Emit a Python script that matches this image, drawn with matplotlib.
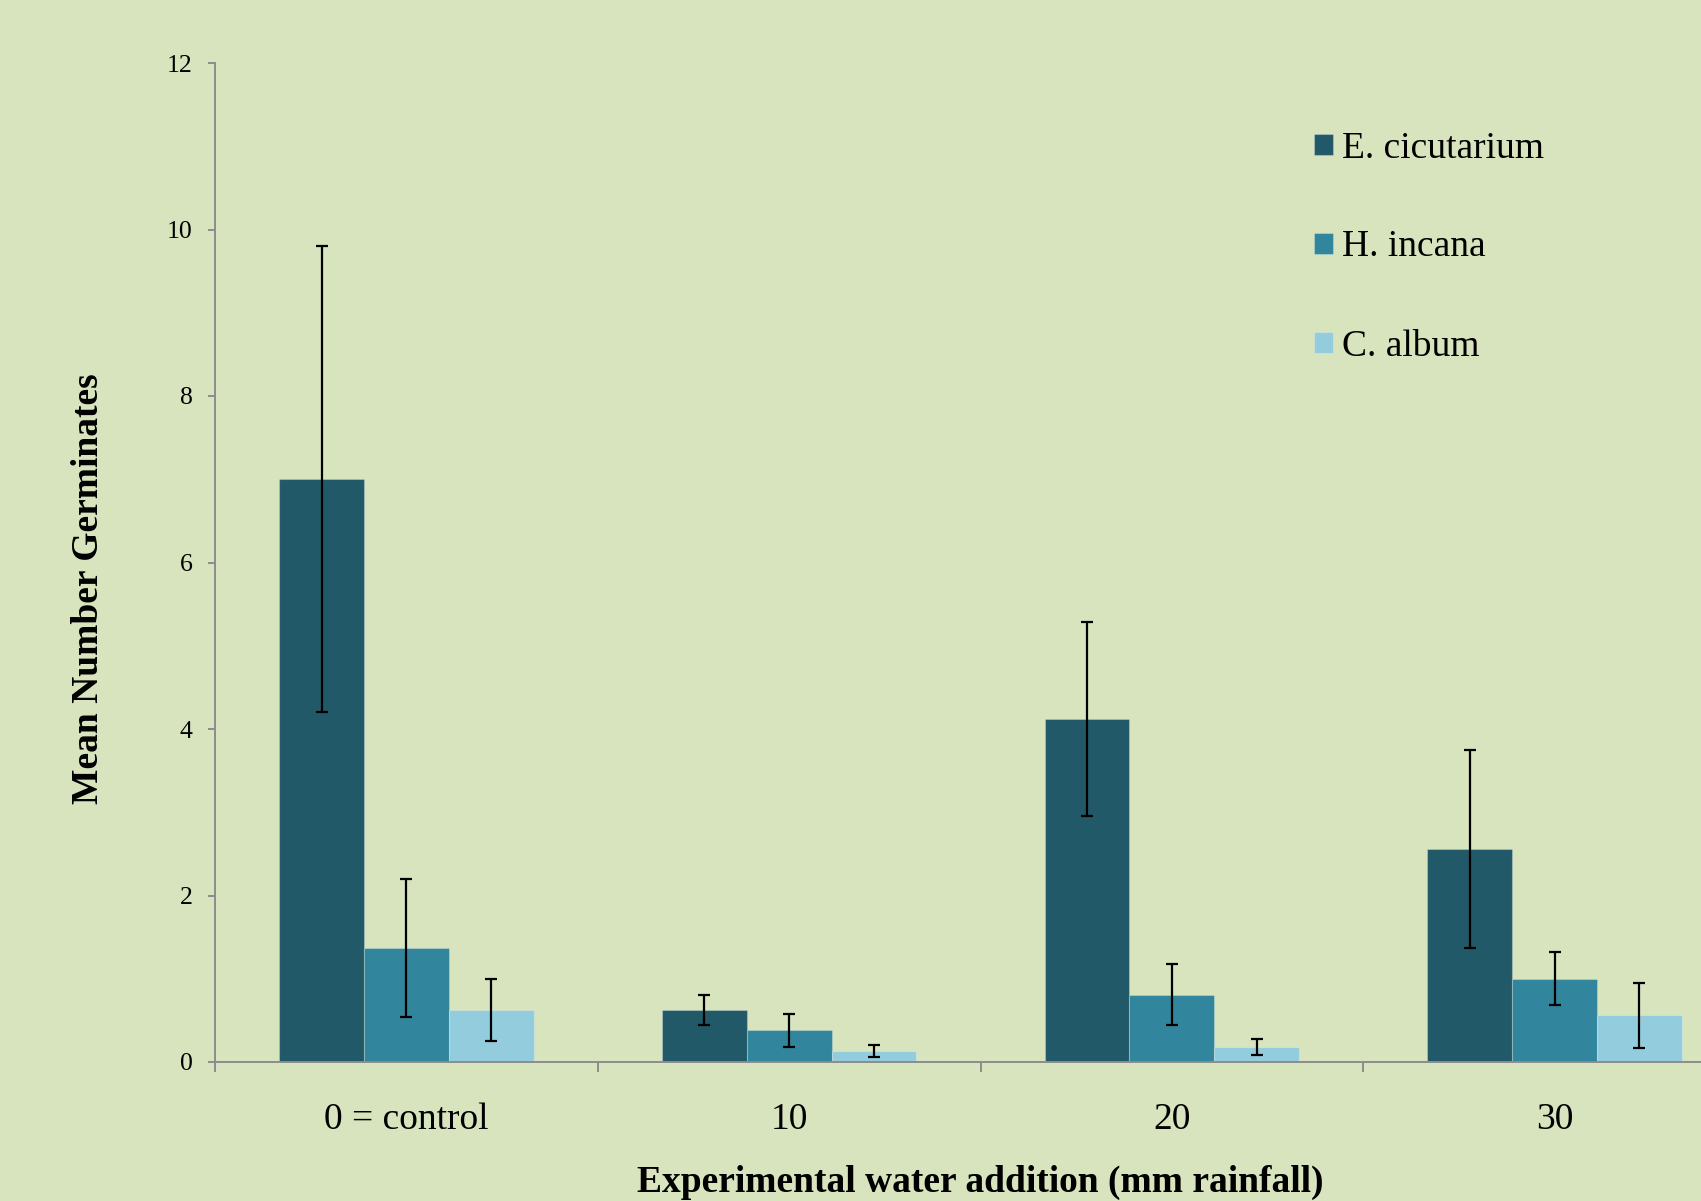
import matplotlib
matplotlib.use("Agg")
import matplotlib.pyplot as plt
import numpy as np

categories = ["0 = control", "10", "20", "30"]
series = ["E. cicutarium", "H. incana", "C. album"]
e_cicutarium = [7.0, 0.625, 4.12, 2.56]
e_cicutarium_err = [2.8, 0.18, 1.17, 1.19]
h_incana = [1.37, 0.38, 0.81, 1.0]
h_incana_err = [0.83, 0.20, 0.37, 0.32]
c_album = [0.625, 0.13, 0.18, 0.56]
c_album_err = [0.375, 0.075, 0.10, 0.39]

values = [e_cicutarium, h_incana, c_album]
errors = [e_cicutarium_err, h_incana_err, c_album_err]
colors = ["#215968", "#31859C", "#93CDDD"]
bg = "#D8E4BD"
axis_gray = "#8C8C8C"

plt.rcParams['font.family'] = ['Liberation Serif', 'DejaVu Serif']

fig = plt.figure(figsize=(17.01, 12.01), dpi=100, facecolor=bg)
ax = fig.add_axes([215/1701, 1 - 1062/1201, (1746-215)/1701, (1062-63)/1201])
ax.set_facecolor(bg)

x = np.arange(len(categories))
w = 0.2215
for i, (vals, errs, col, name) in enumerate(zip(values, errors, colors, series)):
    pos = x + (i - 1) * w
    ax.bar(pos, vals, width=w, color=col, edgecolor=(1, 1, 1, 0.25), linewidth=0.8,
           label=name, zorder=2)
    ax.errorbar(pos, vals, yerr=errs, fmt='none', ecolor='black', elinewidth=1.6,
                capsize=4.3, capthick=1.6, zorder=3)

ax.set_xlim(-0.5, 3.5)
ax.set_ylim(0, 12)
ax.set_yticks(np.arange(0, 13, 2))
ax.tick_params(axis='y', direction='out', length=5, width=1.4, color=axis_gray,
               labelsize=18.5, pad=11)

ax.set_xticks(np.arange(-0.5, 4, 1))
ax.set_xticklabels([])
ax.set_xticks(x, minor=True)
ax.set_xticklabels(categories, minor=True)
ax.tick_params(axis='x', which='major', direction='out', length=7.2, width=1.4, color=axis_gray)
ax.tick_params(axis='x', which='minor', length=0, labelsize=27, pad=29)

for s in ['top', 'right']:
    ax.spines[s].set_visible(False)
for s in ['left', 'bottom']:
    ax.spines[s].set_color(axis_gray)
    ax.spines[s].set_linewidth(1.4)

ax.set_xlabel("Experimental water addition (mm rainfall)", fontsize=27, fontweight='bold',
              labelpad=20)
fig.text(88/1701, 1 - 589/1201, "Mean Number Germinates", fontsize=27, fontweight='bold',
         rotation=90, ha='center', va='center')

leg = ax.legend(loc='upper left', bbox_to_anchor=(1314/1701, 1 - 131/1201),
                bbox_transform=fig.transFigure, frameon=False, fontsize=27,
                handlelength=0.5, handleheight=0.5, handletextpad=0.25,
                labelspacing=1.72, borderpad=0, borderaxespad=0)

fig.savefig("out.png", dpi=100, facecolor=bg)
